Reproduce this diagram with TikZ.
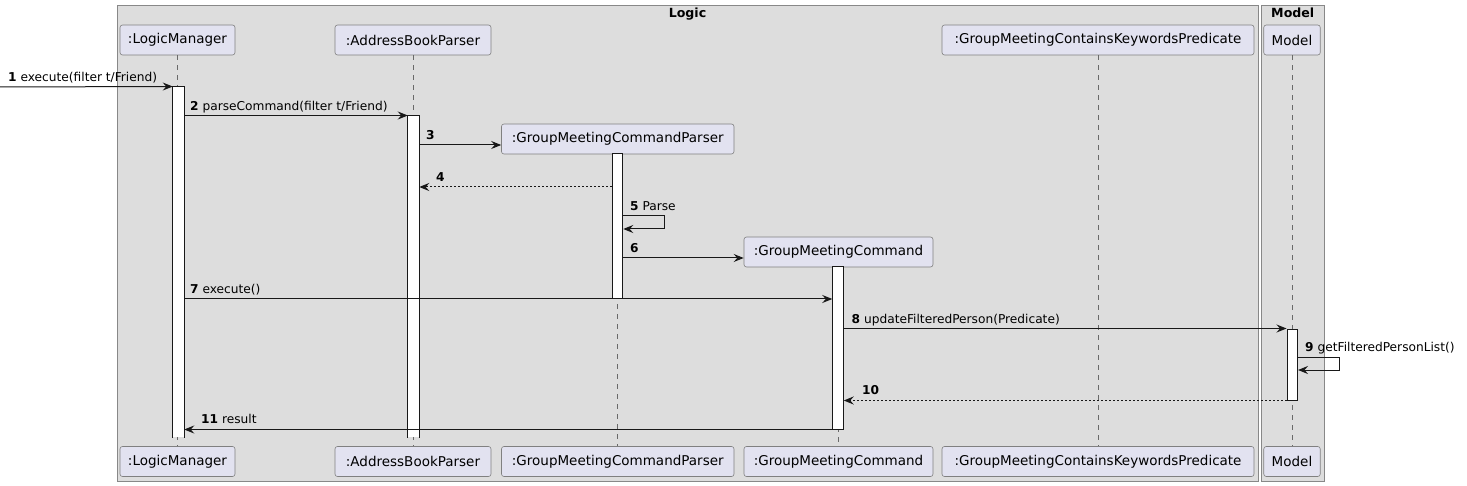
\documentclass[tikz,border=0pt]{standalone}
\usepackage{fontspec}
\setmainfont{DejaVu Sans}
\usetikzlibrary{arrows.meta}

\definecolor{frameFill}{HTML}{DDDDDD}
\definecolor{frameLine}{HTML}{888888}
\definecolor{boxFill}{HTML}{E2E2F0}
\definecolor{lineDark}{HTML}{181818}

\tikzset{
  part/.style={draw=lineDark!55, line width=0.6pt, fill=boxFill, rounded corners=2.5pt,
    minimum height=30pt, inner sep=0pt, font=\fontsize{13.5}{16}\selectfont},
  actbar/.style={draw=lineDark, line width=1pt, fill=white, inner sep=0pt, minimum width=10.5pt},
  openbar/.style={actbar, draw=none},
  lifeline/.style={draw=lineDark!65, line width=0.6pt, dash pattern=on 5pt off 5pt},
  msg/.style={draw=lineDark, line width=1pt, -{Stealth[length=10pt,width=8pt,inset=3.5pt]}},
  reply/.style={msg, dash pattern=on 2pt off 2pt},
  lbl/.style={anchor=base west, inner sep=0pt, font=\fontsize{12.2}{14}\selectfont},
  frm/.style={draw=frameLine, line width=1pt, fill=frameFill},
  ttl/.style={anchor=base, inner sep=0pt, font=\fontsize{12.6}{14}\selectfont\bfseries},
}

\begin{document}
\begin{tikzpicture}[x=1pt, y=-1pt]
  \useasboundingbox (0,0) rectangle (1467,486);

  % boxes
  \draw[frm] (117,6) rectangle (1258,481);
  \draw[frm] (1261,6) rectangle (1324.5,481);
  \node[ttl] (logicTitle) at (687.5,17.5) {Logic};
  \node[ttl] (modelTitle) at (1292.75,17.5) {Model};

  % participants
  \node[part, minimum width=115pt] (lmTop) at (177.5,40) {:LogicManager};
  \node[part, minimum width=156pt] (abTop) at (413,40) {:AddressBookParser};
  \node[part, minimum width=312pt] (predTop) at (1098,40) {:GroupMeetingContainsKeywordsPredicate};
  \node[part, minimum width=56.5pt] (modelTop) at (1292,40) {Model};
  \node[part, minimum width=232.5pt] (gmcp) at (617.75,139) {:GroupMeetingCommandParser};
  \node[part, minimum width=189pt] (gmc) at (838.5,252) {:GroupMeetingCommand};

  \node[part, minimum width=115pt] (lmBot) at (177.5,461.5) {:LogicManager};
  \node[part, minimum width=156pt] (abBot) at (413,461.5) {:AddressBookParser};
  \node[part, minimum width=232.5pt] (gmcpBot) at (617.75,461.5) {:GroupMeetingCommandParser};
  \node[part, minimum width=189pt] (gmcBot) at (838.5,461.5) {:GroupMeetingCommand};
  \node[part, minimum width=312pt] (predBot) at (1098,461.5) {:GroupMeetingContainsKeywordsPredicate};
  \node[part, minimum width=56.5pt] (modelBot) at (1292,461.5) {Model};

  % lifelines
  \draw[lifeline] (lmTop.south) -- (lmBot.north);
  \draw[lifeline] (abTop.south) -- (abBot.north);
  \draw[lifeline] (gmcp.south) -- (gmcpBot.north);
  \draw[lifeline] (gmc.south) -- (gmcBot.north);
  \draw[lifeline] (predTop.south) -- (predBot.north);
  \draw[lifeline] (modelTop.south) -- (modelBot.north);

  % activations (the first two stay open at the bottom)
  \node[openbar, minimum height=350pt] (actLM) at (178.5,262) {};
  \draw[lineDark, line width=1pt] (actLM.south west) -- (actLM.north west) -- (actLM.north east) -- (actLM.south east);
  \node[openbar, minimum height=321pt] (actAB) at (413.5,276.5) {};
  \draw[lineDark, line width=1pt] (actAB.south west) -- (actAB.north west) -- (actAB.north east) -- (actAB.south east);
  \node[actbar, minimum height=145pt] (actGMCP) at (617.5,226.5) {};
  \node[actbar, minimum height=162pt] (actGMC) at (838,348) {};
  \node[actbar, minimum height=71pt] (actModel) at (1292.25,364.5) {};

  % messages
  \coordinate (start) at (0,87);
  \draw[msg] (start) -- (actLM.north west);
  \node[lbl] (l1) at (8,81.5) {\textbf{1} execute(filter t/Friend)};

  \draw[msg] (actLM.east |- actAB.north) -- (actAB.north west);
  \node[lbl] (l2) at (190,110.5) {\textbf{2} parseCommand(filter t/Friend)};

  \draw[msg] (actAB.east |- 0,145) -- (gmcp.west |- 0,145);
  \node[lbl] (l3) at (426,139.5) {\textbf{3}};

  \draw[reply] (actGMCP.west |- 0,187) -- (actAB.east |- 0,187);
  \node[lbl] (l4) at (436,181.5) {\textbf{4}};

  \draw[msg] (actGMCP.east |- 0,216) -- ++(41,0) -- ++(0,13) -- (actGMCP.east |- 0,229);
  \node[lbl] (l5) at (630,211) {\textbf{5} Parse};

  \draw[msg] (actGMCP.east |- 0,258) -- (gmc.west |- 0,258);
  \node[lbl] (l6) at (630,252.5) {\textbf{6}};

  \draw[msg] (actLM.east |- 0,299) -- (actGMC.west |- 0,299);
  \node[lbl] (l7) at (190,293.5) {\textbf{7} execute()};

  \draw[msg] (actGMC.east |- actModel.north) -- (actModel.north west);
  \node[lbl] (l8) at (851.5,323.5) {\textbf{8} updateFilteredPerson(Predicate)};

  \draw[msg] (actModel.east |- 0,357) -- ++(41,0) -- ++(0,13) -- (actModel.east |- 0,370);
  \node[lbl] (l9) at (1305,352) {\textbf{9} getFilteredPersonList()};

  \draw[reply] (actModel.south west) -- (actGMC.east |- actModel.south);
  \node[lbl] (l10) at (862,394.5) {\textbf{10}};

  \draw[msg] (actGMC.south west) -- (actLM.east |- actGMC.south);
  \node[lbl] (l11) at (201,423.5) {\textbf{11} result};
\end{tikzpicture}
\end{document}
